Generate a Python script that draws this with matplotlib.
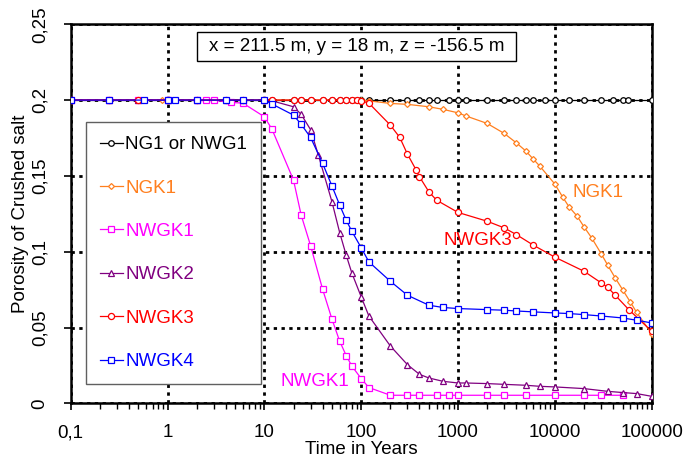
import matplotlib
matplotlib.use("Agg")
import matplotlib.pyplot as plt
from matplotlib.patches import Rectangle

plt.rcParams['font.family'] = ['Liberation Sans', 'DejaVu Sans']

# ---------------- data ----------------
t_ng1 = [0.1, 0.25, 0.5, 1, 2, 4, 6, 10, 12, 20, 24, 30, 40, 50, 60, 70, 80, 90, 100,
         120, 200, 300, 400, 500, 600, 800, 1000, 1200, 2000, 3000, 4000, 5000, 6000,
         8000, 10000, 14000, 20000, 30000, 40000, 50000, 57000, 100000]
p_ng1 = [0.2] * len(t_ng1)

t_ngk1 = [0.1, 0.25, 0.5, 0.87, 2, 4, 6, 10, 20, 40, 60, 100, 120, 200, 300, 500, 700,
          1000, 1200, 2000, 3000, 4000, 5000, 6000, 7000, 10000, 12000, 14000, 17000,
          20000, 24000, 30000, 35000, 42000, 50000, 60000, 70000, 100000]
p_ngk1 = [0.2, 0.2, 0.2, 0.2, 0.2, 0.2, 0.2, 0.2, 0.2, 0.2, 0.2, 0.2, 0.1995, 0.1978,
          0.1972, 0.1956, 0.1939, 0.1916, 0.1896, 0.1846, 0.178, 0.1718, 0.1665, 0.161,
          0.1564, 0.1446, 0.1362, 0.1296, 0.1234, 0.1164, 0.1091, 0.0988, 0.0913, 0.0827,
          0.075, 0.0669, 0.0599, 0.046]

t_nwgk1 = [0.1, 0.25, 0.5, 1, 2, 2.5, 3, 4.5, 6, 10, 12, 20, 24, 30, 40, 50, 60, 70, 80,
           100, 120, 200, 300, 400, 600, 800, 1000, 2000, 3000, 5000, 10000, 20000,
           30000, 50000]
p_nwgk1 = [0.2, 0.2, 0.2, 0.2, 0.2, 0.2, 0.2, 0.1985, 0.198, 0.189, 0.1807, 0.1472,
           0.1241, 0.104, 0.0751, 0.0553, 0.0409, 0.0315, 0.0246, 0.0163, 0.0104,
           0.0053, 0.0053, 0.0053, 0.0053, 0.0053, 0.0053, 0.0053, 0.0053, 0.0053,
           0.0053, 0.0053, 0.0053, 0.0053]

t_nwgk2 = [0.1, 0.25, 0.5, 1, 2, 4, 6, 10, 12, 20, 24, 30, 36, 50, 60, 70, 80, 100, 120,
           200, 300, 400, 500, 700, 1000, 1200, 2000, 3000, 5000, 7000, 10000, 20000,
           35000, 50000, 70000, 100000]
p_nwgk2 = [0.2, 0.2, 0.2, 0.2, 0.2, 0.2, 0.2, 0.2, 0.1995, 0.1956, 0.1906, 0.1805,
           0.164, 0.1327, 0.1125, 0.0977, 0.086, 0.0702, 0.0576, 0.0378, 0.0255, 0.0191,
           0.0167, 0.0145, 0.0134, 0.0134, 0.013, 0.0125, 0.0119, 0.0112, 0.0108, 0.0097,
           0.0079, 0.0071, 0.0064, 0.0046]

t_nwgk3 = [0.1, 0.25, 0.5, 1, 2, 4, 6, 10, 12, 20, 24, 30, 40, 50, 60, 70, 80, 90, 100,
           120, 200, 250, 300, 370, 400, 500, 600, 1000, 2000, 3000, 4000, 6000, 10000,
           20000, 30000, 35000, 42000, 58000, 100000]
p_nwgk3 = [0.2, 0.2, 0.2, 0.2, 0.2, 0.2, 0.2, 0.2, 0.2, 0.2, 0.2, 0.2, 0.2, 0.2, 0.2,
           0.2, 0.2, 0.2, 0.1995, 0.198, 0.1835, 0.1754, 0.1644, 0.1538, 0.1494, 0.1395,
           0.134, 0.1259, 0.1201, 0.1157, 0.1113, 0.1043, 0.0964, 0.0871, 0.0795, 0.0766,
           0.0713, 0.0618, 0.0475]

t_nwgk4 = [0.1, 0.25, 0.57, 1, 1.2, 2, 4, 6, 10, 12, 20, 24, 30, 40, 50, 60, 70, 80, 100,
           120, 200, 300, 500, 700, 1000, 2000, 3000, 4000, 6000, 10000, 14000, 20000,
           30000, 50000, 70000, 100000]
p_nwgk4 = [0.2, 0.2, 0.2, 0.2, 0.2, 0.2, 0.2, 0.2, 0.2, 0.1974, 0.1901, 0.184, 0.1754,
           0.1582, 0.1432, 0.1307, 0.1208, 0.1135, 0.1026, 0.0933, 0.0805, 0.0713,
           0.0647, 0.0632, 0.0625, 0.0618, 0.0614, 0.0609, 0.0603, 0.0596, 0.0592,
           0.0585, 0.0576, 0.0563, 0.0548, 0.053]

labels = ['NG1 or NWG1', 'NGK1', 'NWGK1', 'NWGK2', 'NWGK3', 'NWGK4']
x_ticks = [0.1, 1, 10, 100, 1000, 10000, 100000]
x_ticklabels = ['0,1', '1', '10', '100', '1000', '10000', '100000']
y_ticks = [0, 0.05, 0.1, 0.15, 0.2, 0.25]
y_ticklabels = ['0', '0,05', '0,1', '0,15', '0,2', '0,25']
title_text = 'x = 211.5 m, y = 18 m, z = -156.5 m'

# ---------------- styles ----------------
colors = ['#000000', '#FF7F1E', '#FF00FF', '#800080', '#FF0000', '#0000FF']
markers = ['o', 'D', 's', '^', 'o', 's']
msizes = [4.0, 3.0, 4.3, 4.6, 4.4, 4.3]
series = [(t_ng1, p_ng1), (t_ngk1, p_ngk1), (t_nwgk1, p_nwgk1),
          (t_nwgk2, p_nwgk2), (t_nwgk3, p_nwgk3), (t_nwgk4, p_nwgk4)]

FS = 13.5
fig = plt.figure(figsize=(6.86, 4.66), dpi=100)
ax = fig.add_axes([70.7 / 686, 1 - 403.3 / 466, 581 / 686, 379 / 466])

handles = []
for (t, p), c, m, ms, lab in zip(series, colors, markers, msizes, labels):
    h, = ax.plot(t, p, color=c, marker=m, ms=ms, mfc='white', mec=c, mew=0.9,
                 lw=0.9, label=lab, zorder=3)
    handles.append(h)

ax.set_xscale('log')
ax.set_xlim(0.1, 100000)
ax.set_ylim(0, 0.25)
ax.set_xticks(x_ticks)
ax.set_xticklabels(x_ticklabels, fontsize=FS)
ax.set_yticks(y_ticks)
ax.set_yticklabels(y_ticklabels, fontsize=FS, rotation=90, va='center')
ax.tick_params(axis='both', which='major', direction='out', length=5, width=1.2,
               color='black')
ax.tick_params(axis='x', which='major', pad=10)
ax.tick_params(axis='y', which='major', pad=11)
ax.tick_params(axis='x', which='minor', direction='out', length=4, width=1.0)
ax.minorticks_on()
ax.tick_params(axis='y', which='minor', left=False)

for s in ax.spines.values():
    s.set_linewidth(1.8)
    s.set_color('black')

ax.grid(True, which='major', color='black', linestyle=(0, (1.2, 1.6)), lw=2.0,
        zorder=1)
ax.set_axisbelow(True)

ax.set_xlabel('Time in Years', fontsize=FS, labelpad=0)
ax.set_ylabel('Porosity of Crushed salt', fontsize=FS, labelpad=2)

# title box
ax.add_patch(Rectangle((0.2179, 0.904), 0.5485, 0.075, transform=ax.transAxes,
                       facecolor='white', edgecolor='black', lw=1.0, zorder=5))
ax.text(0.4923, 0.9296, title_text, transform=ax.transAxes, ha='center',
        va='baseline', fontsize=FS, zorder=6)

# curve labels
ax.text(27900, 0.1393, 'NGK1', color=colors[1], fontsize=FS, ha='center',
        va='center', zorder=6)
ax.text(1590, 0.1076, 'NWGK3', color=colors[4], fontsize=FS, ha='center',
        va='center', zorder=6)
ax.text(33.4, 0.0145, 'NWGK1', color=colors[2], fontsize=FS, ha='center',
        va='center', zorder=6)

leg = ax.legend(handles=handles, loc='upper left',
                bbox_to_anchor=((86 - 70.7) / 581, (403.3 - 122) / 379),
                borderaxespad=0, fontsize=FS, frameon=True, fancybox=False,
                edgecolor='#606060', framealpha=1, labelspacing=1.4,
                handlelength=1.2, handletextpad=0.15, borderpad=0.75,
                labelcolor=colors)
leg.get_frame().set_linewidth(1.0)
leg.set_zorder(7)

fig.savefig('out.png', dpi=100)
